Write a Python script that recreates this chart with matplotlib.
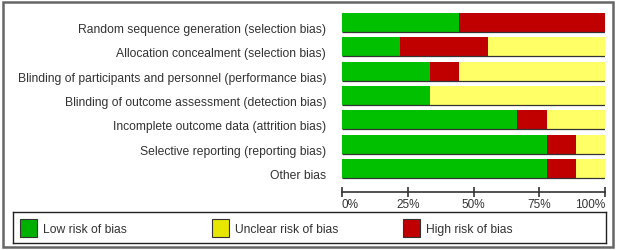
import numpy as np
import matplotlib
matplotlib.use('Agg')
import matplotlib.pyplot as plt
import matplotlib.transforms as mtransforms
from matplotlib.patches import Rectangle

plt.rcParams['font.family'] = ['Liberation Sans', 'DejaVu Sans']

# risk of bias domains and percentages (low, unclear, high)
domains = ['Random sequence generation (selection bias)',
           'Allocation concealment (selection bias)',
           'Blinding of participants and personnel (performance bias)',
           'Blinding of outcome assessment (detection bias)',
           'Incomplete outcome data (attrition bias)',
           'Selective reporting (reporting bias)',
           'Other bias']
low = [44.4, 22.2, 33.3, 33.3, 66.7, 77.8, 77.8]
high = [55.6, 33.3, 11.1, 0.0, 11.1, 11.1, 11.1]
unclear = [0.0, 44.4, 55.6, 66.7, 22.2, 11.1, 11.1]
ticks = [0, 25, 50, 75, 100]
tick_labels = ['0%', '25%', '50%', '75%', '100%']
legend_labels = ['Low risk of bias', 'Unclear risk of bias', 'High risk of bias']

green = '#00C000'
red = '#C00000'
yellow = '#FFFF66'
txt = '#333333'

W, H = 617, 251
fig = plt.figure(figsize=(W / 100, H / 100), dpi=100)

# outer frame
fig.patches.append(Rectangle((3 / W, 3 / H), 610 / W, 245 / H, transform=fig.transFigure,
                             fill=False, edgecolor='#666666', lw=1.8))

# bar axes (pixel positions converted to figure fraction)
x0, x1 = 342, 605
ytop, ybot = 11.3, 181.6
ax = fig.add_axes([x0 / W, 1 - ybot / H, (x1 - x0) / W, (ybot - ytop) / H])

y = np.arange(len(domains))
h = 0.78
low = np.array(low)
high = np.array(high)
unclear = np.array(unclear)
ax.barh(y, low, height=h, color=green, lw=0)
ax.barh(y, high, left=low, height=h, color=red, lw=0)
ax.barh(y, unclear, left=low + high, height=h, color=yellow, lw=0)
ax.hlines(y + h / 2, 0, 100, color='#333333', lw=0.9)

ax.set_xlim(0, 100)
ax.set_ylim(len(domains) - 0.5, -0.5)
ax.set_yticks(y)
ax.set_yticklabels(domains, fontsize=8.75, color=txt)
ax.tick_params(axis='y', length=0, pad=11.5)
shift = mtransforms.ScaledTranslation(0, -5 / 100, fig.dpi_scale_trans)
for lab in ax.get_yticklabels():
    lab.set_transform(lab.get_transform() + shift)
for s in ['top', 'right', 'left']:
    ax.spines[s].set_visible(False)
ax.spines['bottom'].set_position(('outward', 8.0))
ax.spines['bottom'].set_color('#333333')
ax.spines['bottom'].set_linewidth(1.2)
ax.set_xticks(ticks)
ax.set_xticklabels(tick_labels, fontsize=8.5, color=txt)
ax.tick_params(axis='x', direction='inout', length=6.5, width=1.2, color='#333333', pad=1.5)
xl = ax.get_xticklabels()
xl[0].set_ha('left')
xl[-1].set_ha('right')

# legend box
lx0, lx1, ly0, ly1 = 13, 606, 213, 244
lax = fig.add_axes([lx0 / W, 1 - ly1 / H, (lx1 - lx0) / W, (ly1 - ly0) / H])
lax.set_xlim(0, 1)
lax.set_ylim(0, 1)
lax.set_xticks([])
lax.set_yticks([])
for s in lax.spines.values():
    s.set_linewidth(1.0)
    s.set_color('#222222')
for i, (lab, c) in enumerate(zip(legend_labels, ['#00B000', '#E6E600', '#C00000'])):
    px = 0.0118 + i * 0.323
    lax.add_patch(Rectangle((px, 0.2), 0.029, 0.56, facecolor=c, edgecolor='#333333', lw=0.8))
    lax.text(px + 0.039, 0.44, lab, fontsize=8.7, color=txt, va='center', ha='left')

fig.savefig('out.png', dpi=100)
